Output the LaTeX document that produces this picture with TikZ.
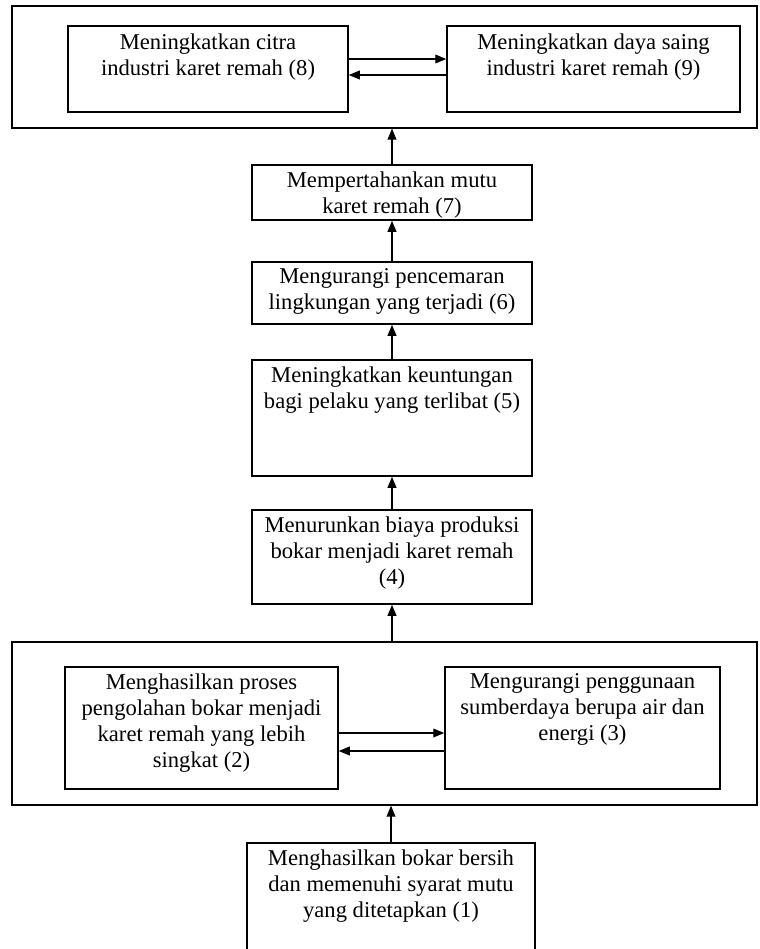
\documentclass[tikz,border=0pt]{standalone}
\usepackage{fontspec}
\setmainfont{Liberation Serif}
\usetikzlibrary{arrows.meta,positioning,calc}

\begin{document}
\begin{tikzpicture}[
  x=0.5pt, y=-0.5pt,
  box/.style={draw, line width=0.75pt, inner sep=0pt},
  frame/.style={draw, line width=0.6pt, inner sep=0pt},
  txt/.style={align=center, inner sep=0pt, font=\fontsize{11.3}{13}\selectfont},
  arr/.style={-{Triangle[length=5.5pt,width=4.4pt]}, line width=0.55pt}
]
\clip (0,0) rectangle (760,949);
% outer frames
\node[frame, minimum width=372.5pt, minimum height=61pt] (ftop) at (384.5,67) {};
\node[frame, minimum width=372.5pt, minimum height=81.5pt] (fbot) at (384.5,723.5) {};
% boxes
\node[box, minimum width=140pt, minimum height=43pt] (b8) at (208,69) {};
\node[box, minimum width=146.5pt, minimum height=43pt] (b9) at (593.5,69) {};
\node[box, minimum width=140pt, minimum height=27.5pt] (b7) at (392,192.5) {};
\node[box, minimum width=140pt, minimum height=31pt] (b6) at (392,293) {};
\node[box, minimum width=140pt, minimum height=58pt] (b5) at (392,418) {};
\node[box, minimum width=140pt, minimum height=47pt] (b4) at (392,557) {};
\node[box, minimum width=136.5pt, minimum height=61pt] (b2) at (201.5,728) {};
\node[box, minimum width=137.5pt, minimum height=61pt] (b3) at (582.5,728) {};
\node[box, minimum width=144pt, minimum height=68.5pt] (b1) at (391,911.5) {};
% texts
\node[txt, below=4pt of b8.north] (t8) {Meningkatkan citra\\industri karet remah (8)};
\node[txt, below=4pt of b9.north] (t9) {Meningkatkan daya saing\\industri karet remah (9)};
\node[txt, below=3.5pt of b7.north] (t7) {Mempertahankan mutu\\karet remah (7)};
\node[txt, below=3.5pt of b6.north] (t6) {Mengurangi pencemaran\\lingkungan yang terjadi (6)};
\node[txt, below=3.5pt of b5.north] (t5) {Meningkatkan keuntungan\\bagi pelaku yang terlibat (5)};
\node[txt, below=3.5pt of b4.north] (t4) {Menurunkan biaya produksi\\bokar menjadi karet remah\\(4)};
\node[txt, below=3.5pt of b2.north] (t2) {Menghasilkan proses\\pengolahan bokar menjadi\\karet remah yang lebih\\singkat (2)};
\node[txt, below=3.5pt of b3.north] (t3) {Mengurangi penggunaan\\sumberdaya berupa air dan\\energi (3)};
\node[txt, below=3.5pt of b1.north] (t1) {Menghasilkan bokar bersih\\dan memenuhi syarat mutu\\yang ditetapkan (1)};
% connectors
\draw[arr] ([yshift=5pt]b8.east) -- ([yshift=5pt]b9.west);
\draw[arr] ([yshift=-3pt]b9.west) -- ([yshift=-3pt]b8.east);
\draw[arr] ([yshift=-2.5pt]b2.east) -- ([yshift=-2.5pt]b3.west);
\draw[arr] ([yshift=-11.5pt]b3.west) -- ([yshift=-11.5pt]b2.east);
\draw[arr] (b1.north) -- (b1.north |- fbot.south);
\draw[arr] (b4.north |- fbot.north) -- (b4.south);
\draw[arr] (b4.north) -- (b5.south);
\draw[arr] (b5.north) -- (b6.south);
\draw[arr] (b6.north) -- (b7.south);
\draw[arr] (b7.north) -- (b7.north |- ftop.south);
\end{tikzpicture}
\end{document}
